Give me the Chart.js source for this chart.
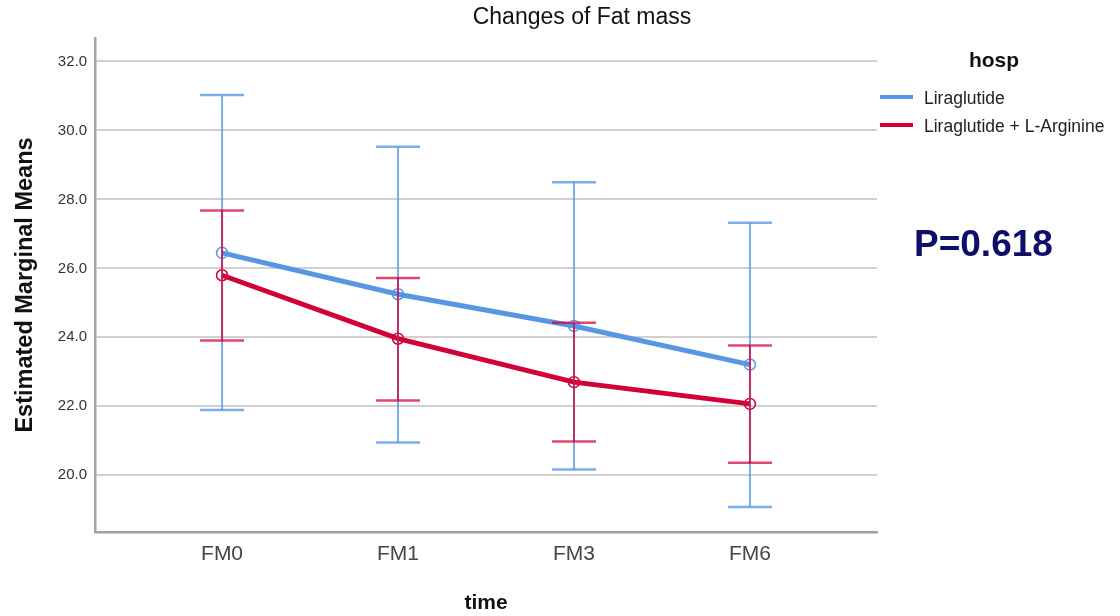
<!DOCTYPE html>
<html>
<head>
<meta charset="utf-8">
<title>Changes of Fat mass</title>
<script src="https://cdn.jsdelivr.net/npm/chart.js@4.4.1/dist/chart.umd.min.js"></script>
<style>
  html, body { margin: 0; padding: 0; background: #ffffff; }
  #wrap { width: 1120px; height: 616px; position: relative; }
</style>
</head>
<body>
<div id="wrap"><canvas id="chart" width="1120" height="616"></canvas></div>
<script>
// Time points
const timeLabels = ['FM0', 'FM1', 'FM3', 'FM6'];

// Liraglutide: estimated marginal means with 95% CI
const liraMean  = [26.45, 25.25, 24.33, 23.21];
const liraLower = [21.89, 20.95, 20.17, 19.08];
const liraUpper = [31.03, 29.53, 28.50, 27.32];

// Liraglutide + L-Arginine: estimated marginal means with 95% CI
const argMean  = [25.80, 23.96, 22.70, 22.07];
const argLower = [23.91, 22.17, 20.98, 20.36];
const argUpper = [27.68, 25.72, 24.42, 23.76];

// Y axis tick values
const yTicks = [20, 22, 24, 26, 28, 30, 32];

const seriesNames = ['Liraglutide', 'Liraglutide + L-Arginine'];
const pValueText = 'P=0.618';

const BLUE = 'rgb(88,150,228)';
const BLUE_BAR = 'rgba(88,150,228,0.78)';
const RED = 'rgb(210,0,55)';
const RED_BAR = 'rgba(210,0,55,0.72)';
const FONT = '"Liberation Sans", Arial, sans-serif';

const toPoints = arr => arr.map((v, i) => ({ x: i, y: v }));

// Confidence-interval whiskers drawn through the chart scales
const errorBars = {
  id: 'errorBars',
  afterDatasetsDraw(chart) {
    const { ctx, scales: { x, y } } = chart;
    const groups = [
      { lo: liraLower, hi: liraUpper, color: BLUE_BAR },
      { lo: argLower, hi: argUpper, color: RED_BAR }
    ];
    const capHalf = 22;
    ctx.save();
    groups.forEach(g => {
      ctx.strokeStyle = g.color;
      g.lo.forEach((lo, i) => {
        const px = x.getPixelForValue(i);
        const yl = y.getPixelForValue(lo);
        const yh = y.getPixelForValue(g.hi[i]);
        ctx.lineWidth = 2;
        ctx.beginPath();
        ctx.moveTo(px, yl);
        ctx.lineTo(px, yh);
        ctx.stroke();
        ctx.lineWidth = 2.5;
        ctx.beginPath();
        ctx.moveTo(px - capHalf, yl);
        ctx.lineTo(px + capHalf, yl);
        ctx.moveTo(px - capHalf, yh);
        ctx.lineTo(px + capHalf, yh);
        ctx.stroke();
      });
    });
    ctx.restore();
  }
};

// Title, axis titles, legend and p-value annotation
const annotations = {
  id: 'annotations',
  afterDraw(chart) {
    const { ctx } = chart;
    ctx.save();
    ctx.fillStyle = '#111';
    ctx.textAlign = 'center';
    ctx.textBaseline = 'middle';

    ctx.font = '23px ' + FONT;
    ctx.fillText('Changes of Fat mass', 582, 18);

    ctx.font = 'bold 21px ' + FONT;
    ctx.fillText('time', 486, 603);

    ctx.save();
    ctx.translate(26, 285);
    ctx.rotate(-Math.PI / 2);
    ctx.font = 'bold 23.5px ' + FONT;
    ctx.fillText('Estimated Marginal Means', 0, 0);
    ctx.restore();

    // legend
    ctx.font = 'bold 21px ' + FONT;
    ctx.fillText('hosp', 994, 61);
    const colors = [BLUE, RED];
    const rowsY = [97, 125];
    ctx.textAlign = 'left';
    ctx.font = '17.5px ' + FONT;
    seriesNames.forEach((name, i) => {
      ctx.strokeStyle = colors[i];
      ctx.lineWidth = 4;
      ctx.beginPath();
      ctx.moveTo(880, rowsY[i]);
      ctx.lineTo(913, rowsY[i]);
      ctx.stroke();
      ctx.fillStyle = '#222';
      ctx.fillText(name, 924, rowsY[i] + 2);
    });

    ctx.font = 'bold 37px ' + FONT;
    ctx.fillStyle = '#0d0d6b';
    ctx.fillText(pValueText, 914, 246);
    ctx.restore();
  }
};

new Chart(document.getElementById('chart'), {
  type: 'line',
  data: {
    datasets: [
      {
        label: seriesNames[0],
        data: toPoints(liraMean),
        borderColor: BLUE,
        borderWidth: 5,
        pointRadius: 5.5,
        pointBorderWidth: 1.5,
        pointBorderColor: BLUE,
        pointBackgroundColor: 'rgba(255,255,255,0)',
        tension: 0
      },
      {
        label: seriesNames[1],
        data: toPoints(argMean),
        borderColor: RED,
        borderWidth: 5,
        pointRadius: 5.5,
        pointBorderWidth: 1.5,
        pointBorderColor: RED,
        pointBackgroundColor: 'rgba(255,255,255,0)',
        tension: 0
      }
    ]
  },
  options: {
    responsive: false,
    animation: false,
    events: [],
    layout: { padding: { left: 0, right: 243, top: 38, bottom: 0 } },
    plugins: {
      legend: { display: false },
      title: { display: false },
      tooltip: { enabled: false }
    },
    scales: {
      x: {
        type: 'linear',
        min: -0.722,
        max: 3.722,
        afterBuildTicks: s => { s.ticks = timeLabels.map((_, i) => ({ value: i })); },
        afterFit: s => { s.height = 84; },
        grid: { display: false, drawTicks: false },
        border: { display: true, color: '#a3a3a3', width: 2.5 },
        ticks: {
          padding: 10,
          autoSkip: false,
          maxRotation: 0,
          color: '#444',
          font: { family: FONT, size: 21 },
          callback: v => timeLabels[v]
        }
      },
      y: {
        type: 'linear',
        min: 18.355,
        max: 32.68,
        afterBuildTicks: s => { s.ticks = yTicks.map(v => ({ value: v })); },
        afterFit: s => { s.width = 95; },
        grid: { color: '#d0d0d0', lineWidth: 2, drawTicks: false },
        border: { display: true, color: '#a3a3a3', width: 2.5 },
        ticks: {
          padding: 8,
          color: '#333',
          font: { family: FONT, size: 15 },
          callback: v => Number(v).toFixed(1)
        }
      }
    }
  },
  plugins: [errorBars, annotations]
});
</script>
</body>
</html>
